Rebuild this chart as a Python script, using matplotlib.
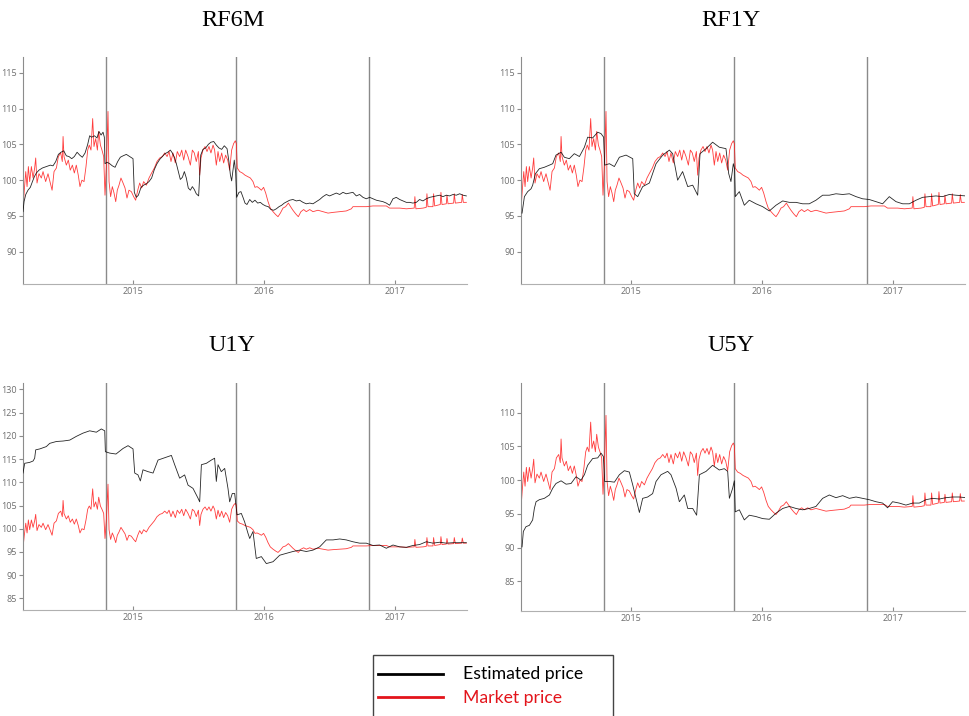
import matplotlib
matplotlib.use('Agg')
import matplotlib.pyplot as plt
from matplotlib.patches import Rectangle
from matplotlib.lines import Line2D

# market price (same for all four panels), time in decimal years
market_t = [2014.160, 2014.170, 2014.181, 2014.191, 2014.201, 2014.211, 2014.224, 2014.237, 2014.249, 2014.257,
            2014.267, 2014.282, 2014.300, 2014.313, 2014.333, 2014.351, 2014.369, 2014.382, 2014.397, 2014.415,
            2014.430, 2014.448, 2014.460, 2014.466, 2014.473, 2014.491, 2014.506, 2014.521, 2014.537, 2014.552,
            2014.567, 2014.582, 2014.595, 2014.610, 2014.626, 2014.641, 2014.654, 2014.666, 2014.679, 2014.692,
            2014.702, 2014.715, 2014.728, 2014.738, 2014.751, 2014.763, 2014.776, 2014.786, 2014.796, 2014.809,
            2014.817, 2014.829, 2014.842, 2014.855, 2014.868, 2014.880, 2014.893, 2014.908, 2014.924, 2014.939,
            2014.954, 2014.969, 2014.987, 2015.005, 2015.020, 2015.036, 2015.051, 2015.066, 2015.081, 2015.102,
            2015.122, 2015.142, 2015.163, 2015.183, 2015.204, 2015.224, 2015.242, 2015.260, 2015.275, 2015.290,
            2015.305, 2015.323, 2015.338, 2015.356, 2015.372, 2015.387, 2015.402, 2015.420, 2015.438, 2015.453,
            2015.468, 2015.483, 2015.499, 2015.509, 2015.519, 2015.534, 2015.550, 2015.565, 2015.580, 2015.595,
            2015.611, 2015.623, 2015.636, 2015.649, 2015.662, 2015.677, 2015.692, 2015.707, 2015.723, 2015.738,
            2015.753, 2015.768, 2015.781, 2015.789, 2015.796, 2015.814, 2015.835, 2015.855, 2015.875, 2015.896,
            2015.916, 2015.931, 2015.947, 2015.962, 2015.980, 2015.997, 2016.013, 2016.031, 2016.048, 2016.069,
            2016.089, 2016.107, 2016.125, 2016.145, 2016.165, 2016.186, 2016.203, 2016.221, 2016.242, 2016.262,
            2016.282, 2016.303, 2016.323, 2016.349, 2016.374, 2016.412, 2016.450, 2016.489, 2016.527, 2016.578,
            2016.628, 2016.667, 2016.679, 2016.730, 2016.781, 2016.832, 2016.883, 2016.934, 2016.959, 2017.036,
            2017.087, 2017.147, 2017.152, 2017.160, 2017.214, 2017.239, 2017.244, 2017.252, 2017.290, 2017.295,
            2017.303, 2017.346, 2017.351, 2017.359, 2017.392, 2017.397, 2017.405, 2017.448, 2017.453, 2017.461,
            2017.509, 2017.514, 2017.522, 2017.545]
market_price = [95.9, 98.6, 101.2, 99.1, 101.9, 99.8, 101.9, 100.3, 101.7, 103.1,
                99.6, 100.9, 100.3, 101.2, 99.8, 100.9, 99.6, 98.6, 101.2, 101.7,
                103.3, 103.8, 102.6, 106.1, 103.3, 102.1, 102.8, 101.4, 102.1, 101.0,
                102.1, 100.7, 99.1, 100.0, 99.8, 101.9, 104.2, 104.9, 104.2, 108.6,
                104.7, 105.8, 104.2, 106.8, 104.9, 104.2, 103.3, 97.9, 101.7, 109.6,
                99.8, 97.7, 99.1, 98.2, 97.0, 98.6, 99.3, 100.3, 99.6, 98.9,
                97.5, 98.6, 98.4, 97.7, 97.2, 98.6, 99.6, 98.9, 99.8, 99.3,
                100.3, 101.0, 101.7, 102.6, 103.1, 103.3, 103.8, 103.3, 104.0, 102.6,
                103.8, 102.4, 104.0, 103.3, 104.2, 102.8, 104.2, 103.3, 102.1, 104.2,
                103.8, 102.6, 104.0, 100.7, 103.1, 104.2, 104.7, 104.0, 104.7, 103.8,
                104.9, 104.2, 102.1, 104.0, 102.6, 103.8, 102.4, 103.5, 102.8, 101.4,
                104.2, 105.1, 105.5, 105.1, 101.7, 101.2, 101.0, 100.7, 100.5, 100.3,
                99.8, 99.0, 99.1, 98.9, 98.6, 99.0, 98.2, 97.0, 96.1, 95.6,
                95.2, 94.9, 95.4, 96.1, 96.3, 96.8, 96.3, 95.8, 95.3, 94.9,
                95.6, 95.9, 95.6, 95.9, 95.6, 95.8, 95.6, 95.4, 95.5, 95.6,
                95.7, 96.0, 96.3, 96.3, 96.3, 96.4, 96.4, 96.4, 96.1, 96.1,
                96.0, 96.1, 97.7, 96.0, 96.1, 96.2, 98.1, 96.3, 96.3, 98.1,
                96.4, 96.6, 98.3, 96.6, 96.7, 97.9, 96.7, 96.8, 98.1, 96.8,
                96.9, 98.0, 96.9, 96.9]

# estimated price, RF6M
rf6m_t = [2014.160, 2014.168, 2014.181, 2014.198, 2014.216, 2014.232, 2014.247, 2014.262, 2014.282, 2014.308,
          2014.338, 2014.369, 2014.389, 2014.410, 2014.430, 2014.450, 2014.471, 2014.491, 2014.511, 2014.532,
          2014.552, 2014.573, 2014.593, 2014.613, 2014.634, 2014.654, 2014.669, 2014.684, 2014.705, 2014.725,
          2014.740, 2014.756, 2014.771, 2014.781, 2014.786, 2014.802, 2014.822, 2014.842, 2014.863, 2014.883,
          2014.903, 2014.924, 2014.949, 2014.975, 2015.000, 2015.010, 2015.025, 2015.041, 2015.061, 2015.081,
          2015.102, 2015.122, 2015.142, 2015.163, 2015.183, 2015.204, 2015.224, 2015.244, 2015.265, 2015.285,
          2015.300, 2015.316, 2015.331, 2015.346, 2015.361, 2015.377, 2015.392, 2015.407, 2015.422, 2015.438,
          2015.453, 2015.468, 2015.483, 2015.501, 2015.517, 2015.534, 2015.555, 2015.575, 2015.595, 2015.616,
          2015.636, 2015.656, 2015.677, 2015.697, 2015.718, 2015.733, 2015.743, 2015.753, 2015.763, 2015.773,
          2015.784, 2015.791, 2015.809, 2015.824, 2015.840, 2015.855, 2015.870, 2015.891, 2015.911, 2015.931,
          2015.952, 2015.972, 2015.992, 2016.013, 2016.033, 2016.053, 2016.074, 2016.094, 2016.115, 2016.135,
          2016.155, 2016.176, 2016.196, 2016.221, 2016.247, 2016.272, 2016.298, 2016.323, 2016.349, 2016.374,
          2016.399, 2016.425, 2016.450, 2016.476, 2016.501, 2016.527, 2016.552, 2016.578, 2016.603, 2016.628,
          2016.654, 2016.679, 2016.705, 2016.730, 2016.756, 2016.781, 2016.807, 2016.832, 2016.858, 2016.883,
          2016.908, 2016.934, 2016.959, 2016.985, 2017.010, 2017.036, 2017.061, 2017.087, 2017.112, 2017.137,
          2017.163, 2017.188, 2017.214, 2017.239, 2017.265, 2017.290, 2017.316, 2017.341, 2017.366, 2017.392,
          2017.417, 2017.443, 2017.468, 2017.494, 2017.519, 2017.545]
rf6m_est = [95.6, 97.0, 98.0, 98.6, 99.0, 99.8, 100.5, 101.0, 101.4, 101.7,
            101.9, 102.1, 102.0, 102.6, 103.6, 103.9, 104.1, 103.4, 103.3, 103.0,
            103.3, 103.9, 103.5, 103.2, 103.8, 105.0, 106.2, 106.0, 106.2, 105.9,
            106.8, 106.3, 106.7, 106.0, 102.3, 102.5, 102.3, 102.0, 101.8, 102.6,
            103.2, 103.4, 103.6, 103.3, 103.0, 98.3, 97.6, 97.9, 99.0, 99.3,
            99.5, 99.8, 100.3, 101.5, 102.3, 102.9, 103.3, 103.7, 103.9, 104.2,
            103.8, 103.2, 102.3, 101.2, 100.1, 100.4, 101.2, 100.3, 98.9, 98.6,
            99.1, 98.7, 98.1, 97.8, 103.5, 104.3, 104.5, 105.0, 105.3, 105.4,
            104.9, 104.5, 104.3, 104.8, 104.4, 102.5, 100.8, 99.9, 101.3, 102.8,
            101.0, 97.6, 98.3, 98.4, 97.6, 96.8, 96.6, 97.3, 96.9, 97.2,
            96.8, 96.9, 96.6, 96.4, 96.3, 95.9, 95.8, 96.0, 96.3, 96.5,
            96.8, 97.0, 97.2, 97.3, 97.1, 97.2, 96.9, 96.7, 96.8, 96.7,
            97.0, 97.3, 97.7, 98.0, 97.8, 98.0, 98.2, 98.0, 98.3, 98.1,
            98.2, 98.3, 97.8, 98.0, 97.6, 97.4, 97.6, 97.4, 97.2, 97.1,
            97.0, 96.8, 96.5, 97.4, 97.6, 97.3, 97.1, 96.9, 96.9, 96.8,
            96.9, 97.3, 97.1, 97.4, 97.6, 97.7, 97.8, 97.9, 97.7, 97.9,
            97.8, 98.0, 97.9, 98.1, 97.9, 97.8]

# estimated price, RF1Y
rf1y_t = [2014.168, 2014.186, 2014.211, 2014.237, 2014.249, 2014.270, 2014.300, 2014.338, 2014.377, 2014.402,
          2014.427, 2014.466, 2014.491, 2014.529, 2014.567, 2014.606, 2014.644, 2014.669, 2014.707, 2014.746,
          2014.771, 2014.791, 2014.799, 2014.835, 2014.873, 2014.911, 2014.962, 2015.013, 2015.025, 2015.051,
          2015.089, 2015.140, 2015.191, 2015.242, 2015.293, 2015.318, 2015.356, 2015.394, 2015.433, 2015.471,
          2015.509, 2015.527, 2015.573, 2015.623, 2015.674, 2015.725, 2015.746, 2015.763, 2015.781, 2015.791,
          2015.796, 2015.827, 2015.865, 2015.903, 2015.954, 2016.005, 2016.056, 2016.107, 2016.158, 2016.209,
          2016.260, 2016.310, 2016.361, 2016.412, 2016.463, 2016.514, 2016.565, 2016.616, 2016.667, 2016.718,
          2016.768, 2016.819, 2016.870, 2016.921, 2016.972, 2017.023, 2017.074, 2017.125, 2017.176, 2017.226,
          2017.277, 2017.328, 2017.379, 2017.430, 2017.481, 2017.557]
rf1y_est = [95.4, 97.7, 98.4, 98.8, 99.3, 100.9, 101.6, 101.8, 102.1, 102.3,
            103.5, 103.9, 103.2, 103.0, 103.7, 103.3, 104.6, 106.0, 105.9, 106.7,
            106.5, 106.0, 102.1, 102.3, 101.9, 103.2, 103.5, 103.0, 98.1, 97.7,
            99.1, 99.6, 102.3, 103.5, 104.2, 103.7, 100.0, 101.2, 99.1, 99.3,
            97.9, 103.7, 104.4, 105.3, 104.6, 104.4, 100.9, 99.8, 102.3, 101.6,
            97.7, 98.4, 96.5, 97.2, 96.7, 96.3, 95.7, 96.5, 97.1, 96.9,
            96.9, 96.7, 96.7, 97.2, 97.9, 97.9, 98.1, 98.0, 98.1, 97.7,
            97.4, 97.3, 97.0, 96.7, 97.7, 97.0, 96.7, 96.7, 97.2, 97.6,
            97.7, 97.8, 97.7, 98.0, 97.9, 97.8]

# estimated price, U1Y
u1y_t = [2014.160, 2014.173, 2014.211, 2014.237, 2014.249, 2014.257, 2014.288, 2014.338, 2014.364, 2014.415,
         2014.466, 2014.517, 2014.567, 2014.618, 2014.669, 2014.720, 2014.758, 2014.784, 2014.789, 2014.822,
         2014.870, 2014.924, 2014.962, 2015.000, 2015.013, 2015.038, 2015.056, 2015.076, 2015.115, 2015.153,
         2015.191, 2015.242, 2015.293, 2015.318, 2015.356, 2015.394, 2015.420, 2015.458, 2015.496, 2015.509,
         2015.522, 2015.560, 2015.598, 2015.623, 2015.636, 2015.649, 2015.674, 2015.700, 2015.725, 2015.738,
         2015.758, 2015.776, 2015.794, 2015.827, 2015.852, 2015.878, 2015.891, 2015.916, 2015.941, 2015.980,
         2016.018, 2016.069, 2016.120, 2016.170, 2016.221, 2016.272, 2016.323, 2016.374, 2016.425, 2016.476,
         2016.527, 2016.578, 2016.628, 2016.679, 2016.730, 2016.781, 2016.832, 2016.883, 2016.934, 2016.985,
         2017.036, 2017.087, 2017.137, 2017.188, 2017.239, 2017.290, 2017.341, 2017.392, 2017.443, 2017.545]
u1y_est = [112.0, 114.1, 114.3, 114.6, 115.2, 117.0, 117.2, 117.7, 118.4, 118.8,
           118.9, 119.1, 119.9, 120.6, 121.1, 120.8, 121.5, 121.1, 116.6, 116.3,
           116.1, 117.3, 117.9, 117.2, 112.0, 111.6, 110.3, 112.7, 112.3, 112.0,
           114.8, 115.3, 115.8, 113.8, 110.9, 111.6, 109.4, 108.7, 106.6, 105.8,
           113.8, 114.1, 114.8, 115.2, 110.2, 113.8, 112.3, 113.0, 108.7, 105.8,
           107.6, 107.6, 103.0, 103.3, 101.5, 99.0, 97.9, 99.4, 93.6, 94.0,
           92.5, 92.9, 94.3, 94.7, 95.1, 95.4, 95.1, 95.4, 96.1, 97.6,
           97.6, 97.8, 97.6, 97.2, 96.9, 96.9, 96.4, 96.5, 95.8, 96.5,
           96.1, 96.0, 96.4, 96.6, 97.2, 96.9, 97.1, 96.9, 97.0, 97.0]

# estimated price, U5Y
u5y_t = [2014.168, 2014.178, 2014.198, 2014.224, 2014.249, 2014.262, 2014.275, 2014.300, 2014.338, 2014.377,
         2014.402, 2014.427, 2014.466, 2014.504, 2014.542, 2014.580, 2014.618, 2014.644, 2014.669, 2014.707,
         2014.746, 2014.771, 2014.789, 2014.799, 2014.835, 2014.873, 2014.911, 2014.949, 2014.987, 2015.013,
         2015.038, 2015.064, 2015.089, 2015.127, 2015.165, 2015.191, 2015.229, 2015.280, 2015.305, 2015.344,
         2015.369, 2015.407, 2015.433, 2015.471, 2015.501, 2015.522, 2015.573, 2015.623, 2015.674, 2015.712,
         2015.738, 2015.751, 2015.776, 2015.789, 2015.796, 2015.827, 2015.865, 2015.903, 2015.954, 2016.005,
         2016.056, 2016.107, 2016.158, 2016.209, 2016.260, 2016.310, 2016.361, 2016.412, 2016.463, 2016.514,
         2016.565, 2016.616, 2016.667, 2016.718, 2016.768, 2016.819, 2016.870, 2016.921, 2016.959, 2016.997,
         2017.048, 2017.099, 2017.150, 2017.201, 2017.252, 2017.303, 2017.354, 2017.405, 2017.455, 2017.506,
         2017.557]
u5y_est = [90.1, 92.4, 93.1, 93.3, 94.1, 95.8, 96.8, 97.1, 97.3, 97.8,
           98.8, 99.5, 99.9, 99.4, 99.5, 100.5, 100.0, 100.8, 102.2, 103.2,
           103.3, 104.0, 103.5, 99.8, 99.8, 99.7, 100.8, 101.4, 101.2, 99.3,
           97.3, 95.2, 97.3, 97.5, 98.0, 99.8, 100.8, 101.3, 100.8, 98.8,
           96.8, 97.8, 95.8, 95.8, 94.8, 100.8, 101.3, 102.2, 101.5, 101.7,
           101.3, 97.3, 98.8, 99.9, 95.3, 95.6, 94.1, 94.8, 94.6, 94.3,
           94.2, 95.1, 95.8, 96.1, 95.8, 95.6, 95.8, 96.1, 97.3, 97.8,
           97.4, 97.7, 97.3, 97.5, 97.3, 97.1, 96.8, 96.6, 95.9, 96.8,
           96.6, 96.3, 96.6, 96.6, 97.1, 97.3, 97.2, 97.4, 97.5, 97.5,
           97.4]

titles = ['RF6M', 'RF1Y', 'U1Y', 'U5Y']
est_t = [rf6m_t, rf1y_t, u1y_t, u5y_t]
est_vals = [rf6m_est, rf1y_est, u1y_est, u5y_est]
ylims = [(85.5, 117.2), (85.5, 117.2), (82.5, 131.4), (80.6, 114.4)]
yticks = [range(90, 116, 5), range(90, 116, 5), range(85, 131, 5), range(85, 111, 5)]
vlines = [2014.79, 2015.79, 2016.80]
years = [2015, 2016, 2017]

W, H = 969, 716
fig = plt.figure(figsize=(W / 100, H / 100), dpi=100)

# axes boxes in pixels: left, top, right, bottom
boxes = [(23, 57, 467, 284), (521, 57, 965, 284), (23, 383, 467, 610), (521, 383, 965, 611)]
title_pos = [(233, 26), (731, 26), (232, 351), (731, 351)]

for i in range(4):
    l, t, r, b = boxes[i]
    ax = fig.add_axes([l / W, 1 - b / H, (r - l) / W, (b - t) / H])
    for v in vlines:
        ax.axvline(v, color='#8a8a8a', lw=1.0, zorder=1)
    ax.plot(market_t, market_price, color='#ff1a1a', lw=0.6, alpha=0.85, zorder=2)
    ax.plot(est_t[i], est_vals[i], color='black', lw=0.6, alpha=0.85, zorder=3)
    ax.set_xlim(2014.16, 2017.55)
    ax.set_ylim(*ylims[i])
    ax.set_yticks(list(yticks[i]))
    ax.set_xticks(years)
    ax.set_xticklabels([str(y) for y in years])
    for s in ['top', 'right']:
        ax.spines[s].set_visible(False)
    ax.spines['left'].set_color('#8c8c8c')
    ax.spines['bottom'].set_color('#b0b0b0')
    ax.tick_params(axis='y', direction='out', length=3, width=0.8, color='#8c8c8c',
                   labelsize=6.5, labelcolor='#6e6e6e', pad=1.5)
    ax.tick_params(axis='x', direction='in', length=3, width=0.8, color='#8c8c8c',
                   labelsize=6.5, labelcolor='#6e6e6e', pad=2)
    for lab in ax.get_xticklabels() + ax.get_yticklabels():
        lab.set_family('Open Sans')
    tx, ty = title_pos[i]
    fig.text(tx / W, 1 - ty / H, titles[i], ha='center', va='baseline',
             family='Liberation Serif', fontsize=17.5)

# legend box, cut by the bottom edge like the original
fig.add_artist(Rectangle((372.5 / W, -0.02), 240 / W, (716 - 655) / H + 0.02,
                         transform=fig.transFigure, facecolor='white', edgecolor='#444444', lw=1.0))
fig.add_artist(Line2D([378 / W, 443 / W], [1 - 674 / H, 1 - 674 / H], color='black', lw=2,
                      transform=fig.transFigure))
fig.add_artist(Line2D([378 / W, 443 / W], [1 - 697 / H, 1 - 697 / H], color='#e3141b', lw=2,
                      transform=fig.transFigure))
fig.text(463 / W, 1 - 679 / H, 'Estimated price', family='Lato', fontsize=12.7, color='black', va='baseline')
fig.text(463 / W, 1 - 703 / H, 'Market price', family='Lato', fontsize=12.7, color='#e3141b', va='baseline')

fig.savefig('out.png', dpi=100)
